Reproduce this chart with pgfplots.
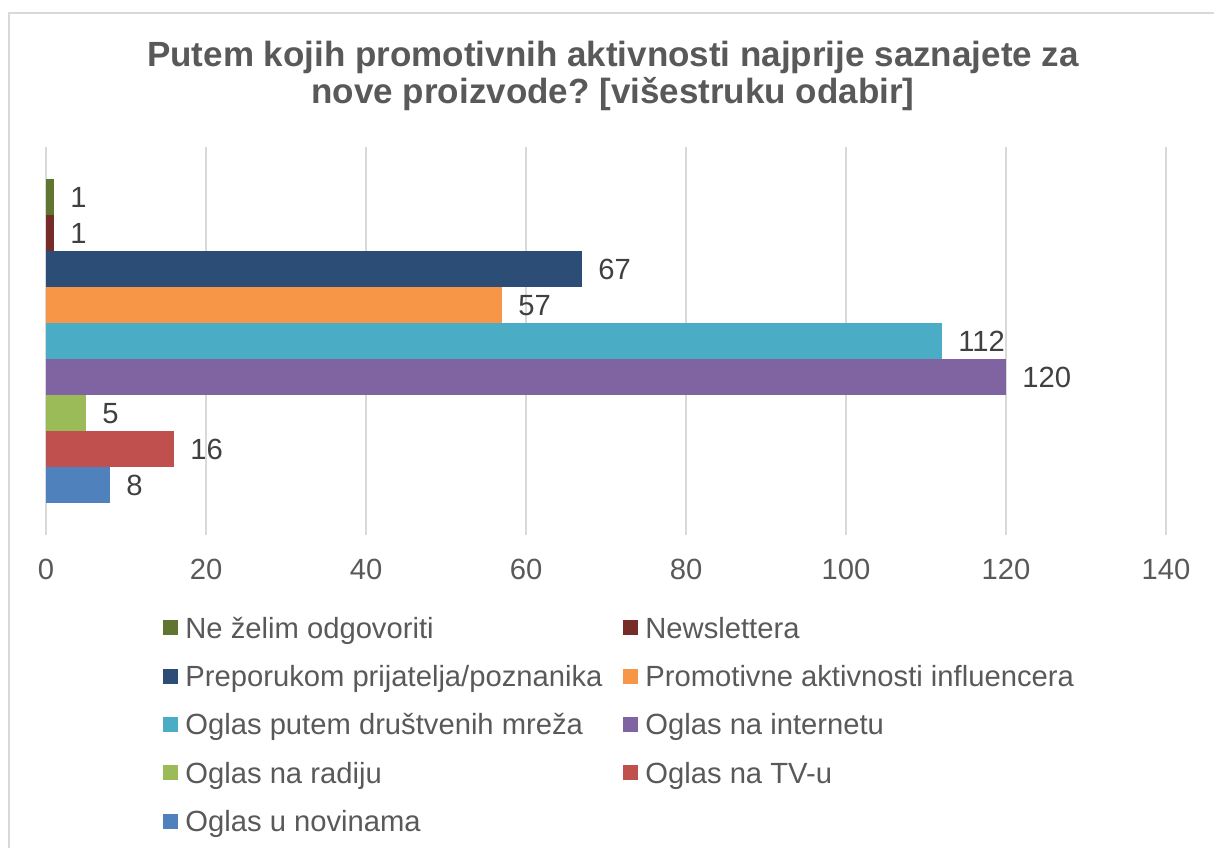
\documentclass[border=0pt]{standalone}
\usepackage{pgfplots}
\pgfplotsset{compat=1.18}
\usepackage{fontspec}
\setmainfont{Liberation Sans}
\frenchspacing
\definecolor{cA}{HTML}{5F7530}
\definecolor{cB}{HTML}{772C2A}
\definecolor{cC}{HTML}{2C4D75}
\definecolor{cD}{HTML}{F79646}
\definecolor{cE}{HTML}{4BACC6}
\definecolor{cF}{HTML}{8064A2}
\definecolor{cG}{HTML}{9BBB59}
\definecolor{cH}{HTML}{C0504D}
\definecolor{cI}{HTML}{4F81BD}
\definecolor{txt}{HTML}{595959}
\definecolor{lbl}{HTML}{404040}
\definecolor{grd}{HTML}{D9D9D9}
\newcommand{\fs}{\fontsize{14.6}{17}\selectfont}
\newcommand{\cl}[1]{\makebox[219pt][l]{#1}}
\begin{document}
\begin{tikzpicture}
\useasboundingbox (0,0) rectangle (607pt,424pt);
\draw[grd, line width=0.8pt] (4.5pt,0pt) -- (4.5pt,417.5pt) -- (607pt,417.5pt);
\node[anchor=base, text=txt, font=\fontsize{17.5}{18.35}\selectfont\bfseries, inner sep=0pt] at (306.5pt,390.65pt) {Putem kojih promotivnih aktivnosti najprije saznajete za};
\node[anchor=base, text=txt, font=\fontsize{17.5}{18.35}\selectfont\bfseries, inner sep=0pt] at (306.5pt,372.35pt) {nove proizvode? [višestruku odabir]};
\begin{axis}[
  at={(23pt,156.5pt)}, anchor=south west,
  scale only axis, width=560pt, height=194pt,
  xmin=0, xmax=140, ymin=-1.389, ymax=9.389,
  xtick={0,20,...,140}, ytick=\empty,
  xmajorgrids, major grid style={grd, line width=0.8pt},
  axis line style={draw=none}, major tick length=0pt,
  xticklabel style={font=\fs, text=txt, anchor=north, inner sep=0pt, text height=10.4pt, text depth=0pt, yshift=-11.5pt},
  /pgf/number format/assume math mode=true,
  point meta=x,
  nodes near coords,
  every node near coord/.append style={font=\fs, text=lbl, anchor=west, inner sep=0pt, text height=10.4pt, text depth=0pt, xshift=8pt},
  legend columns=2,
  legend image code/.code={\fill[#1] (0pt,-3.75pt) rectangle (7.5pt,3.75pt);},
  legend style={draw=none, fill=none, inner sep=0pt, font=\fs, text=txt,
    at={(0.10446,-0.2113)}, anchor=north west,
    nodes={inner sep=0pt, text height=10.4pt, text depth=0pt, anchor=west},
    row sep=13.75pt,
    /tikz/every odd column/.append style={column sep=3.5pt},
    /tikz/every even column/.append style={column sep=0pt}},
]
\addplot[xbar, bar shift=0pt, bar width=1, fill=cA, draw=none] coordinates {(1,8)};
\addlegendentry{\cl{Ne želim odgovoriti}}
\addplot[xbar, bar shift=0pt, bar width=1, fill=cB, draw=none] coordinates {(1,7)};
\addlegendentry{Newslettera}
\addplot[xbar, bar shift=0pt, bar width=1, fill=cC, draw=none] coordinates {(67,6)};
\addlegendentry{\cl{Preporukom prijatelja/poznanika}}
\addplot[xbar, bar shift=0pt, bar width=1, fill=cD, draw=none] coordinates {(57,5)};
\addlegendentry{Promotivne aktivnosti influencera}
\addplot[xbar, bar shift=0pt, bar width=1, fill=cE, draw=none] coordinates {(112,4)};
\addlegendentry{\cl{Oglas putem društvenih mreža}}
\addplot[xbar, bar shift=0pt, bar width=1, fill=cF, draw=none] coordinates {(120,3)};
\addlegendentry{Oglas na internetu}
\addplot[xbar, bar shift=0pt, bar width=1, fill=cG, draw=none] coordinates {(5,2)};
\addlegendentry{\cl{Oglas na radiju}}
\addplot[xbar, bar shift=0pt, bar width=1, fill=cH, draw=none] coordinates {(16,1)};
\addlegendentry{Oglas na TV-u}
\addplot[xbar, bar shift=0pt, bar width=1, fill=cI, draw=none] coordinates {(8,0)};
\addlegendentry{Oglas u novinama}
\end{axis}
\end{tikzpicture}
\end{document}
